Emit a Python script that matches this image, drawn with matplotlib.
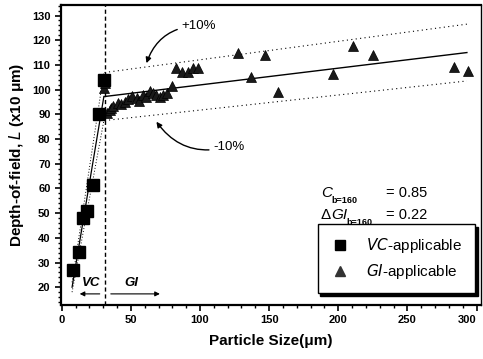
import numpy as np
import matplotlib
matplotlib.use('Agg')
import matplotlib.pyplot as plt
from matplotlib.lines import Line2D

plt.rcParams['font.family'] = ['Liberation Sans', 'DejaVu Sans']

# VC-applicable points (squares)
vc_x = [8.4, 12.5, 15.6, 18.5, 22.8, 26.9, 30.5]
vc_y = [27.0, 34.4, 47.9, 51.0, 61.4, 90.0, 103.9]

# GI-applicable points (triangles)
gi_x = [30.5, 31.5, 32.5, 34.8, 36.0, 37.2, 40.8, 43.0, 45.7, 48.0, 50.5, 54.1,
        56.0, 58.9, 61.0, 63.7, 66.0, 68.5, 71.0, 73.3, 76.0, 79.4, 83.0, 87.3,
        91.3, 95.0, 98.6, 127.4, 137.1, 146.7, 156.3, 196.0, 210.4, 224.8,
        283.8, 294.1]
gi_y = [100.6, 102.5, 90.4, 91.8, 92.5, 93.4, 94.7, 94.0, 95.1, 96.0, 97.4, 96.5,
        95.5, 97.9, 97.0, 99.6, 98.5, 97.9, 97.0, 97.9, 98.5, 101.5, 108.7, 107.3,
        107.3, 108.7, 108.7, 115.0, 105.3, 114.0, 99.2, 106.4, 117.7, 113.9,
        109.1, 107.7]

# fitted curves
gi_fit_x = [31, 293]
gi_fit_y = [97.2, 115.0]
vc_fit_x = [7.5, 30.5]
vc_fit_y = [20.0, 97.2]
band = 0.10
boundary_x = 31

fig = plt.figure(figsize=(4.83, 3.59), dpi=100)
ax = fig.add_axes([0.1263, 0.1504, 0.869, 0.836])

gfx = np.array(gi_fit_x)
gfy = np.array(gi_fit_y)
vfx = np.array(vc_fit_x)
vfy = np.array(vc_fit_y)

ax.plot(gfx, gfy, color='black', lw=1.0, zorder=2)
ax.plot(gfx, gfy * (1 + band), color='black', lw=0.8, ls=(0, (1, 3)), zorder=2)
ax.plot(gfx, gfy * (1 - band), color='black', lw=0.8, ls=(0, (1, 3)), zorder=2)
ax.plot(vfx, vfy, color='black', lw=0.9, zorder=2)
ax.plot(vfx, vfy * (1 + band), color='black', lw=0.7, ls=(0, (1, 2)), zorder=2)
ax.plot(vfx, vfy * (1 - band), color='black', lw=0.7, ls=(0, (1, 2)), zorder=2)

ax.axvline(boundary_x, color='black', lw=1.0, ls=(0, (3, 2)), zorder=1)

ax.plot(gi_x, gi_y, ls='none', marker='^', ms=7, color='#1a1a1a',
        mec='black', mew=0.5, zorder=3)
ax.plot(vc_x, vc_y, ls='none', marker='s', ms=8, color='black', zorder=4)

# region arrows
ax.annotate('', xy=(11, 17.3), xytext=(29.5, 17.3),
            arrowprops=dict(arrowstyle='-|>', color='black', lw=0.8,
                            mutation_scale=7))
ax.annotate('', xy=(73, 17.3), xytext=(33.5, 17.3),
            arrowprops=dict(arrowstyle='-|>', color='black', lw=0.8,
                            mutation_scale=7))
ax.text(21.5, 21.6, 'VC', style='italic', fontsize=9.5, fontweight='bold',
        ha='center', va='center')
ax.text(50.5, 21.6, 'GI', style='italic', fontsize=9.5, fontweight='bold',
        ha='center', va='center')

# +/-10% labels
ax.annotate('+10%', xy=(61.3, 110.7), xytext=(86.5, 125.8),
            fontsize=9.5, ha='left', va='center',
            arrowprops=dict(arrowstyle='-|>', color='black', lw=1.0,
                            mutation_scale=8, shrinkA=1, shrinkB=0,
                            connectionstyle='arc3,rad=0.35'))
ax.annotate('-10%', xy=(68.5, 87.0), xytext=(109.5, 76.9),
            fontsize=9.5, ha='left', va='center',
            arrowprops=dict(arrowstyle='-|>', color='black', lw=1.0,
                            mutation_scale=8, shrinkA=1, shrinkB=0,
                            connectionstyle='arc3,rad=-0.35'))

# fit statistics
ax.text(187.3, 58.1, 'C', style='italic', fontsize=11, ha='left', va='center')
ax.text(194.8, 55.0, 'b=160', fontsize=6.5, fontweight='bold', ha='left', va='center')
ax.text(234.6, 58.1, '= 0.85', fontsize=10.5, ha='left', va='center')
ax.text(186.8, 49.3, '\u0394', fontsize=11, ha='left', va='center')
ax.text(194.6, 49.3, 'GI', style='italic', fontsize=11, ha='left', va='center')
ax.text(205.8, 46.2, 'b=160', fontsize=6.5, fontweight='bold', ha='left', va='center')
ax.text(234.6, 49.3, '= 0.22', fontsize=10.5, ha='left', va='center')

handles = [
    Line2D([], [], ls='none', marker='s', ms=7, color='black'),
    Line2D([], [], ls='none', marker='^', ms=7, color='#333333'),
]
leg = ax.legend(handles, [r'$\it{VC}$-applicable', r'$\it{GI}$-applicable'],
                loc='lower right', bbox_to_anchor=(0.986, 0.039),
                prop={'size': 11},
                frameon=True, fancybox=False,
                shadow={'color': 'black', 'alpha': 1.0},
                borderpad=0.8, handlelength=1.3, handletextpad=1.1,
                labelspacing=0.45, borderaxespad=0)
leg.get_frame().set_edgecolor('black')
leg.get_frame().set_linewidth(1.0)

ax.set_xlim(-0.5, 303)
ax.set_ylim(12.8, 134.3)
ax.set_xticks(np.arange(0, 301, 50))
ax.set_xticks(np.arange(0, 301, 10), minor=True)
ax.set_yticks(np.arange(20, 131, 10))
ax.set_yticks(np.arange(14, 135, 2), minor=True)
ax.tick_params(which='major', direction='out', length=4, width=1.2,
               labelsize=8, top=False, right=False)
ax.tick_params(which='minor', direction='out', length=2.5, width=1.0,
               top=False, right=False)
for lab in ax.get_xticklabels() + ax.get_yticklabels():
    lab.set_fontweight('bold')
ax.get_xticklabels()[-1].set_horizontalalignment('right')

for side in ['left', 'bottom', 'top']:
    ax.spines[side].set_linewidth(1.6)
ax.spines['right'].set_linewidth(1.0)

ax.set_xlabel('Particle Size(\u03bcm)', fontsize=11, fontweight='bold', labelpad=6)
ax.set_ylabel('Depth-of-field, $\\it{L}$ (x10 \u03bcm)', fontsize=11,
              fontweight='bold', labelpad=4)

fig.savefig('out.png', dpi=100)
